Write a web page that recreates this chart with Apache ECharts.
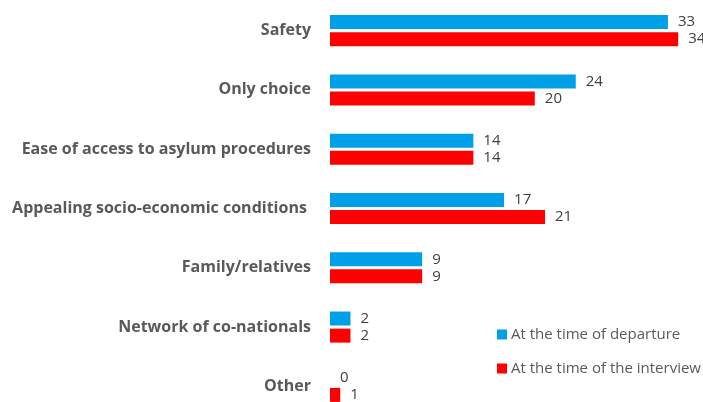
<!DOCTYPE html>
<html>
<head>
<meta charset="utf-8">
<script src="https://cdn.jsdelivr.net/npm/echarts@6/dist/echarts.min.js"></script>
<style>
  html, body { margin: 0; padding: 0; background: #fff; }
  #chart { width: 703px; height: 402px; }
</style>
</head>
<body>
<div id="chart"></div>
<script>
// categories, top to bottom
const categories = [
  "Safety",
  "Only choice",
  "Ease of access to asylum procedures",
  "Appealing socio-economic conditions ",
  "Family/relatives",
  "Network of co-nationals",
  "Other"
];
// 出发时 / 访谈时
const departure = [33, 24, 14, 17, 9, 2, 0];
const interview = [34, 20, 14, 21, 9, 2, 1];
const seriesNames = ["At the time of departure", "At the time of the interview"];

const font = "'Open Sans', 'Liberation Sans', sans-serif";
const chart = echarts.init(document.getElementById("chart"));

const labelStyle = {
  show: true,
  position: "right",
  distance: 10,
  color: "#404040",
  fontSize: 15,
  fontFamily: font
};

chart.setOption({
  animation: false,
  legend: {
    orient: "vertical",
    left: 492,
    top: 322,
    itemWidth: 10,
    itemHeight: 10,
    itemGap: 19,
    icon: "rect",
    textStyle: { color: "#595959", fontSize: 15, fontFamily: font, padding: [0, 0, 0, -1] },
    data: seriesNames
  },
  grid: {
    left: 330,
    top: 1,
    width: 409.6,
    height: 415,
    outerBoundsMode: "none"
  },
  xAxis: {
    type: "value",
    min: 0,
    max: 40,
    show: false
  },
  yAxis: {
    type: "category",
    inverse: true,
    data: categories,
    axisLine: { show: false },
    axisTick: { show: false },
    axisLabel: {
      margin: 19,
      color: "#595959",
      fontSize: 16,
      fontWeight: "bold",
      fontFamily: font
    }
  },
  series: [
    {
      name: seriesNames[0],
      type: "bar",
      data: departure,
      barWidth: 14,
      barGap: "22%",
      itemStyle: { color: "#00a0e9" },
      label: labelStyle
    },
    {
      name: seriesNames[1],
      type: "bar",
      data: interview,
      barWidth: 14,
      itemStyle: { color: "#ff0000" },
      label: labelStyle
    }
  ]
});
</script>
</body>
</html>
